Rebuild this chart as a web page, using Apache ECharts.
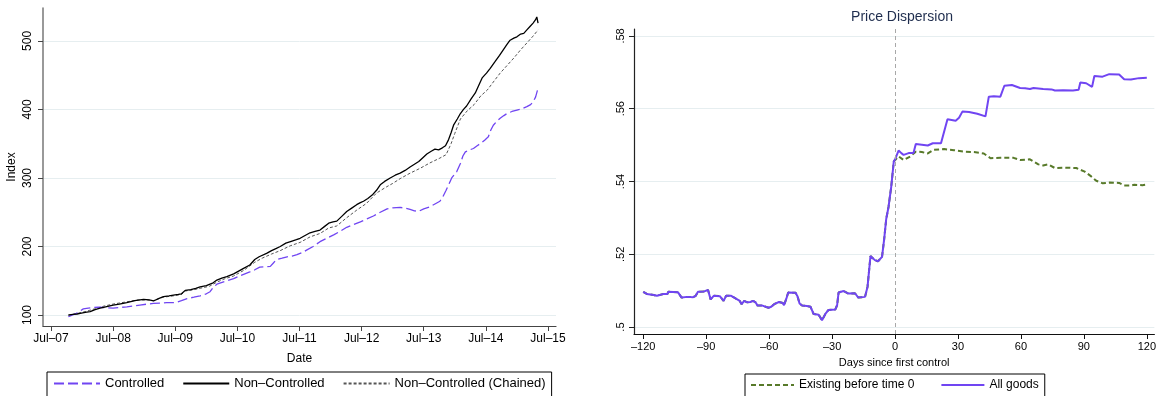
<!DOCTYPE html>
<html>
<head>
<meta charset="utf-8">
<script src="https://cdn.jsdelivr.net/npm/echarts@6/dist/echarts.min.js"></script>
<style>
html,body{margin:0;padding:0;background:#fff;}
#c{width:1159px;height:396px;}
</style>
</head>
<body>
<div id="c"></div>
<script>
// ---------- Left panel: price indices (x = fractional year) ----------
const nonCtrlT = [2007.78,2007.85,2007.92,2007.97,2008.05,2008.13,2008.21,2008.29,2008.38,2008.50,2008.60,2008.72,2008.85,2008.99,2009.08,2009.15,2009.23,2009.31,2009.40,2009.47,2009.55,2009.60,2009.66,2009.75,2009.83,2009.90,2010.00,2010.11,2010.17,2010.25,2010.33,2010.44,2010.52,2010.60,2010.70,2010.78,2010.85,2010.97,2011.05,2011.12,2011.19,2011.28,2011.38,2011.45,2011.51,2011.59,2011.67,2011.75,2011.83,2011.90,2011.97,2012.04,2012.10,2012.18,2012.26,2012.34,2012.42,2012.48,2012.53,2012.60,2012.67,2012.74,2012.80,2012.87,2012.96,2013.04,2013.12,2013.20,2013.28,2013.35,2013.42,2013.49,2013.55,2013.62,2013.68,2013.74,2013.80,2013.85,2013.90,2013.94,2013.98,2014.04,2014.09,2014.14,2014.19,2014.26,2014.33,2014.39,2014.44,2014.51,2014.57,2014.65,2014.72,2014.78,2014.84,2014.89,2014.95,2015.00,2015.06,2015.11,2015.16,2015.21,2015.26,2015.30,2015.32,2015.34];
const nonCtrlV = [100,101,101.5,102.5,104,105,108,110,112,114.6,116,118,121,123,122,120.5,124,127,128,129,130,131,136,137,139,141,143,147,151,154,156,160,164,168,173,181,185,190,194,197,200,205,208,210,212,216,220,222,224,229,234,236,237,244,251,256,261,264,266,270,275,282,290,295,300,304,307,311,316,320,324,330,335,339,342,341,344,347,356,366,377,386,394,400,405,415,424,436,446,453,460,470,479,487,495,501,504,506,510,511,516,521,526,531,535,526];

const chainedT = [2007.78,2007.90,2008.05,2008.20,2008.35,2008.50,2008.70,2008.90,2009.05,2009.15,2009.30,2009.47,2009.60,2009.66,2009.80,2009.90,2010.05,2010.17,2010.30,2010.44,2010.60,2010.78,2010.90,2011.05,2011.19,2011.35,2011.51,2011.67,2011.83,2011.97,2012.10,2012.26,2012.42,2012.58,2012.74,2012.90,2013.00,2013.12,2013.28,2013.44,2013.60,2013.76,2013.86,2013.94,2014.00,2014.09,2014.20,2014.31,2014.42,2014.52,2014.62,2014.73,2014.84,2014.95,2015.06,2015.16,2015.26,2015.34];
const chainedV = [100,102,105,109,113,116,119,122,122,121,126,128,130,135,137,139,142,148,153,157,165,177,183,189,194,201,206,214,219,227,230,242,253,263,278,287,292,299,307,314,322,329,334,350,365,386,398,407,420,428,440,453,464,475,487,497,507,516];

const ctrlT = [2007.78,2007.84,2007.91,2007.97,2008.02,2008.10,2008.18,2008.26,2008.34,2008.42,2008.50,2008.60,2008.72,2008.82,2008.93,2009.05,2009.15,2009.25,2009.36,2009.44,2009.52,2009.60,2009.69,2009.80,2009.90,2010.00,2010.06,2010.11,2010.17,2010.30,2010.44,2010.56,2010.70,2010.78,2010.86,2010.95,2011.03,2011.08,2011.13,2011.22,2011.30,2011.38,2011.46,2011.54,2011.62,2011.72,2011.83,2011.94,2012.05,2012.15,2012.26,2012.37,2012.48,2012.58,2012.69,2012.80,2012.91,2013.00,2013.12,2013.20,2013.28,2013.35,2013.42,2013.50,2013.60,2013.68,2013.76,2013.81,2013.86,2013.91,2013.95,2014.03,2014.09,2014.13,2014.17,2014.24,2014.30,2014.36,2014.41,2014.48,2014.54,2014.58,2014.62,2014.68,2014.73,2014.79,2014.84,2014.92,2015.00,2015.08,2015.16,2015.22,2015.26,2015.30,2015.34];
const ctrlV = [97.5,100,102.5,106,109,110,111,111.5,111,110.5,110,111,112,113,114.6,116,117,117.5,118,118,118.5,121,124,126,128,131,134,140,145,149,153,158,163,166,170,170.5,171,176,181,183,185,186,188,191,195,200,207,212,217,222,228,232,236,240,244.5,250,255,256.5,257,256,254,252,251.5,255,258,262,266,273,282,292,300,309,321,332,338,341,343,347,350,355,360,370,377,383,387,391,394,397,399,401,404,407,411,418,431];

const leftTickPos = [2007.5,2008.5,2009.5,2010.5,2011.5,2012.5,2013.5,2014.5,2015.5];
const leftTickLabels = ['Jul\u201307','Jul\u201308','Jul\u201309','Jul\u201310','Jul\u201311','Jul\u201312','Jul\u201313','Jul\u201314','Jul\u201315'];
const leftYTicks = [100,200,300,400,500];
const leftSeriesNames = ['Controlled','Non\u2013Controlled','Non\u2013Controlled (Chained)'];

// ---------- Right panel: price dispersion (x = days since first control) ----------
const allDays = [-120,-118.3,-115,-113.5,-110.4,-108.5,-108,-103.5,-102.9,-101.7,-99,-96.2,-95,-93.9,-91,-89.1,-88.3,-87.9,-86.4,-83.5,-82.8,-81.7,-80.5,-78.1,-75.8,-74,-73.1,-71.9,-70.4,-69,-67.6,-66.5,-65.5,-63.2,-60.3,-59,-57.6,-55.3,-53.5,-52.9,-51.8,-50.9,-47.4,-46.5,-45.5,-44.3,-42,-40.3,-38.8,-36.4,-35.5,-34.8,-33.2,-31.7,-28.5,-27.6,-26.9,-24.5,-22.2,-19.1,-17.5,-14.3,-13.1,-11.7,-9.6,-8.1,-6.2,-5.2,-4.2,-3.1,-1.8,-0.6,0.1,1.7,3,4.1,6.5,8.8,9.9,12.8,15.6,18,21.9,22.7,24,25,28.9,30.5,32.1,35.3,39.2,43.1,44.7,47.1,50.2,52.1,55.7,59.6,62,64.3,66,70.6,74.6,76.2,80.1,84.8,87.5,88.3,91.1,93.9,95,98.9,102.1,106.8,109.2,112.4,116.3,120];
const allVals = [0.5097,0.5091,0.5088,0.5086,0.5091,0.5091,0.5097,0.5096,0.5095,0.5081,0.5083,0.5082,0.5086,0.5097,0.5098,0.5102,0.5098,0.5076,0.5086,0.5085,0.5083,0.5072,0.5086,0.5086,0.5078,0.5072,0.5063,0.5072,0.5068,0.5069,0.5072,0.5068,0.5059,0.5059,0.5053,0.5056,0.5063,0.5069,0.5066,0.5060,0.5078,0.5095,0.5094,0.5085,0.5065,0.5059,0.5058,0.5056,0.5036,0.5034,0.5030,0.5019,0.5036,0.5047,0.5048,0.5060,0.5095,0.5099,0.5092,0.5093,0.5081,0.5083,0.5111,0.5195,0.5184,0.5181,0.5193,0.5240,0.5297,0.5330,0.5386,0.5455,0.5462,0.5485,0.5478,0.5473,0.5478,0.5478,0.5503,0.5501,0.5499,0.5505,0.5505,0.5510,0.5550,0.5571,0.5567,0.5575,0.5592,0.5591,0.5586,0.5579,0.5633,0.5634,0.5633,0.5663,0.5665,0.5657,0.5656,0.5654,0.5657,0.5654,0.5653,0.5650,0.5651,0.5650,0.5652,0.5672,0.5670,0.5660,0.5690,0.5688,0.5695,0.5694,0.5681,0.5680,0.5684,0.5685];
// "Existing before time 0": identical to all goods before day 0, its own values afterwards
const existPostDays = [0.1,1.7,4.1,7.3,9.9,12.8,15.6,18.4,23.4,28.1,32.9,37.6,42.3,45.5,50.2,56.5,59.6,64.3,68.3,70.6,73,76.2,80.1,86.4,90.4,93.5,95.9,99,102.1,106.8,109.2,112.4,114,117.9,120];
const existPostVals = [0.5455,0.5469,0.5459,0.5469,0.5482,0.5481,0.5477,0.5487,0.5489,0.5486,0.5482,0.5481,0.5477,0.5464,0.5465,0.5465,0.5459,0.5461,0.5447,0.5444,0.5447,0.5437,0.5438,0.5437,0.5427,0.5414,0.5402,0.5395,0.5397,0.5396,0.5389,0.5389,0.5391,0.5390,0.5392];

const rightXTicks = [-120,-90,-60,-30,0,30,60,90,120];
const rightXLabels = ['\u2013120','\u201390','\u201360','\u201330','0','30','60','90','120'];
const rightYTicks = [0.50,0.52,0.54,0.56,0.58];
const rightYLabels = ['.5','.52','.54','.56','.58'];
const rightSeriesNames = ['Existing before time 0','All goods'];
const rightTitle = 'Price Dispersion';

// ---------- build ----------
const zip = (a, b) => a.map((v, i) => [v, b[i]]);
const existData = zip(allDays, allVals).filter(p => p[0] < 0).concat(zip(existPostDays, existPostVals));

const FONT = '"Liberation Sans", Arial, Helvetica, sans-serif';
const PURPLE = '#7045f2';
const GREEN = '#587a2a';
const GRIDC = '#e6eef0';

const chart = echarts.init(document.getElementById('c'), null, {renderer: 'canvas'});
chart.setOption({
  animation: false,
  backgroundColor: '#ffffff',
  textStyle: {fontFamily: FONT},
  title: {
    text: rightTitle, left: 897, top: 5, textAlign: 'center',
    textStyle: {fontFamily: FONT, fontSize: 14, fontWeight: 'normal', color: '#1f2d4e'}
  },
  grid: [
    {left: 43, right: 603, top: 8, bottom: 70},
    {left: 634, right: 0, top: 29, bottom: 62}
  ],
  xAxis: [
    {
      gridIndex: 0, type: 'value', min: 2007.371, max: 2015.629,
      name: 'Date', nameLocation: 'middle', nameGap: 27,
      nameTextStyle: {fontFamily: FONT, fontSize: 12, color: '#000'},
      axisLine: {show: true, onZero: false, lineStyle: {color: '#444', width: 1.2}},
      axisTick: {show: true, length: 5, customValues: leftTickPos, lineStyle: {color: '#444'}},
      axisLabel: {customValues: leftTickPos, margin: 7, fontSize: 12, color: '#000', fontFamily: FONT,
        formatter: v => leftTickLabels[leftTickPos.findIndex(t => Math.abs(t - v) < 1e-6)] || ''},
      splitLine: {show: false}
    },
    {
      gridIndex: 1, type: 'value', min: -124.4, max: 123.6,
      name: 'Days since first control', nameLocation: 'middle', nameGap: 23,
      nameTextStyle: {fontFamily: FONT, fontSize: 11, color: '#000'},
      axisLine: {show: true, onZero: false, lineStyle: {color: '#111', width: 1.2}},
      axisTick: {show: true, length: 5, customValues: rightXTicks, lineStyle: {color: '#111'}},
      axisLabel: {customValues: rightXTicks, margin: 7, fontSize: 11, color: '#000', fontFamily: FONT,
        formatter: v => rightXLabels[rightXTicks.findIndex(t => Math.abs(t - v) < 1e-6)] || ''},
      splitLine: {show: false}
    }
  ],
  yAxis: [
    {
      gridIndex: 0, type: 'value', min: 84, max: 548,
      name: 'Index', nameLocation: 'middle', nameGap: 25, nameRotate: 90,
      nameTextStyle: {fontFamily: FONT, fontSize: 12, color: '#000'},
      axisLine: {show: true, onZero: false, lineStyle: {color: '#777', width: 1.5}},
      axisTick: {show: true, length: 5, customValues: leftYTicks, lineStyle: {color: '#444'}},
      axisLabel: {customValues: leftYTicks, rotate: 90, margin: 9, fontSize: 12, color: '#000', fontFamily: FONT},
      splitLine: {show: true, lineStyle: {color: GRIDC, width: 1}}
    },
    {
      gridIndex: 1, type: 'value', min: 0.4981, max: 0.5819,
      axisLine: {show: true, onZero: false, lineStyle: {color: '#222', width: 1.2}},
      axisTick: {show: true, length: 5, customValues: rightYTicks, lineStyle: {color: '#222'}},
      axisLabel: {customValues: rightYTicks, rotate: 90, margin: 8, fontSize: 11, color: '#000', fontFamily: FONT,
        formatter: v => rightYLabels[rightYTicks.findIndex(t => Math.abs(t - v) < 1e-9)] || ''},
      splitLine: {show: true, lineStyle: {color: GRIDC, width: 1}}
    }
  ],
  legend: [
    {
      data: leftSeriesNames, left: 47, top: 372, orient: 'horizontal',
      itemWidth: 46, itemHeight: 12, itemGap: 18,
      padding: [5, 6, 12, 6], borderColor: '#000', borderWidth: 1,
      itemStyle: {opacity: 0},
      textStyle: {fontFamily: FONT, fontSize: 13, color: '#000'}
    },
    {
      data: rightSeriesNames, left: 745, top: 374, orient: 'horizontal',
      itemWidth: 43, itemHeight: 12, itemGap: 26,
      padding: [5, 6, 12, 5], borderColor: '#000', borderWidth: 1,
      itemStyle: {opacity: 0},
      textStyle: {fontFamily: FONT, fontSize: 12, color: '#000'}
    }
  ],
  series: [
    {
      name: leftSeriesNames[2], type: 'line', xAxisIndex: 0, yAxisIndex: 0,
      data: zip(chainedT, chainedV), symbol: 'none', z: 2,
      lineStyle: {color: '#555', width: 1, type: [3, 2]}, itemStyle: {color: '#555'}
    },
    {
      name: leftSeriesNames[0], type: 'line', xAxisIndex: 0, yAxisIndex: 0,
      data: zip(ctrlT, ctrlV), symbol: 'none', z: 3,
      lineStyle: {color: PURPLE, width: 1.3, type: [10, 4]}, itemStyle: {color: PURPLE}
    },
    {
      name: leftSeriesNames[1], type: 'line', xAxisIndex: 0, yAxisIndex: 0,
      data: zip(nonCtrlT, nonCtrlV), symbol: 'none', z: 4,
      lineStyle: {color: '#000', width: 1.3}, itemStyle: {color: '#000'}
    },
    {
      name: rightSeriesNames[0], type: 'line', xAxisIndex: 1, yAxisIndex: 1,
      data: existData, symbol: 'none', z: 3,
      lineStyle: {color: GREEN, width: 2, type: [5, 3]}, itemStyle: {color: GREEN},
      markLine: {
        silent: true, symbol: 'none', label: {show: false},
        lineStyle: {color: '#a8a8a8', width: 1, type: [4, 3], opacity: 1},
        emphasis: {disabled: true},
        data: [{xAxis: 0}]
      }
    },
    {
      name: rightSeriesNames[1], type: 'line', xAxisIndex: 1, yAxisIndex: 1,
      data: zip(allDays, allVals), symbol: 'none', z: 4,
      lineStyle: {color: PURPLE, width: 2}, itemStyle: {color: PURPLE}
    }
  ]
});
</script>
</body>
</html>
